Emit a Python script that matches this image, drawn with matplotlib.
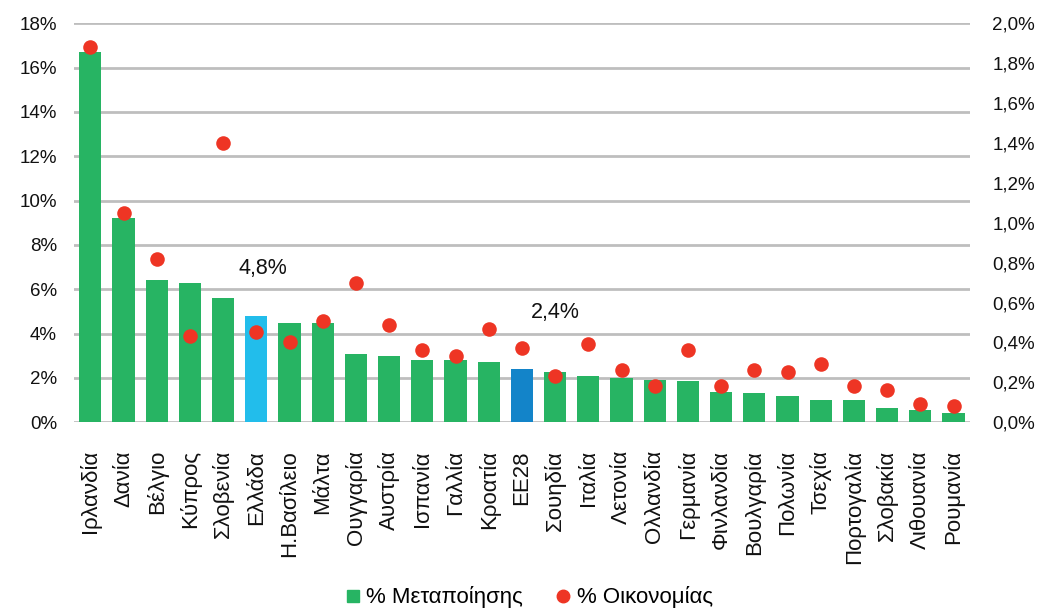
import matplotlib.pyplot as plt
from matplotlib.ticker import FuncFormatter
from matplotlib.lines import Line2D

plt.rcParams["font.family"] = ["Liberation Sans", "DejaVu Sans"]

# -----------------------------
# Data
# -----------------------------
countries = [
    "Ιρλανδία", "Δανία", "Βέλγιο", "Κύπρος", "Σλοβενία", "Ελλάδα",
    "Η.Βασίλειο", "Μάλτα", "Ουγγαρία", "Αυστρία", "Ισπανία", "Γαλλία",
    "Κροατία", "ΕΕ28", "Σουηδία", "Ιταλία", "Λετονία", "Ολλανδία",
    "Γερμανία", "Φινλανδία", "Βουλγαρία", "Πολωνία", "Τσεχία",
    "Πορτογαλία", "Σλοβακία", "Λιθουανία", "Ρουμανία",
]
manufacturing = [
    16.7, 9.2, 6.4, 6.3, 5.6, 4.8, 4.5, 4.5, 3.1, 3.0, 2.8, 2.8, 2.7, 2.4,
    2.25, 2.1, 2.0, 1.9, 1.88, 1.37, 1.31, 1.17, 1.02, 0.99, 0.66, 0.54, 0.41,
]
economy = [
    1.88, 1.05, 0.82, 0.43, 1.40, 0.45, 0.40, 0.51, 0.70, 0.49, 0.36, 0.33,
    0.47, 0.37, 0.23, 0.39, 0.26, 0.18, 0.36, 0.18, 0.26, 0.25, 0.29, 0.18,
    0.16, 0.09, 0.08,
]
highlight = {"Ελλάδα": "#22BDEB", "ΕΕ28": "#1384C9"}
label_texts = {"Ελλάδα": "4,8%", "ΕΕ28": "2,4%"}

GREEN = "#27B463"
RED = "#EE3524"
GRID = "#BEBEBE"

fig = plt.figure(figsize=(10.46, 6.12), dpi=100)
ax = fig.add_axes([0.0705, 0.31, 0.857, 0.652])
ax2 = ax.twinx()

x = list(range(len(countries)))
colors = [highlight.get(c, GREEN) for c in countries]
ax.bar(x, manufacturing, width=0.67, color=colors, zorder=2)
ax2.scatter(x, economy, s=110, color=RED, zorder=3, linewidths=0)

# value labels for Greece and EU28 (placed above, slightly offset)
label_pos = {"Ελλάδα": (0.2, 6.95), "ΕΕ28": (1.0, 4.95)}
for c, txt in label_texts.items():
    i = countries.index(c)
    dx, ty = label_pos[c]
    ax.text(i + dx, ty, txt, ha="center", va="center", fontsize=15.5,
            color="#111111")

ax.set_xlim(-0.5, len(countries) - 0.5)
ax.set_ylim(0, 18)
ax2.set_ylim(0, 2.0)
ax.set_yticks(range(0, 19, 2))
ax2.set_yticks([i / 10 for i in range(0, 21, 2)])
ax.yaxis.set_major_formatter(FuncFormatter(lambda v, p: f"{v:.0f}%"))
ax2.yaxis.set_major_formatter(
    FuncFormatter(lambda v, p: f"{v:.1f}%".replace(".", ",")))

ax.grid(axis="y", color=GRID, linewidth=2, zorder=0)
ax.set_axisbelow(True)
for a in (ax, ax2):
    for s in a.spines.values():
        s.set_visible(False)
    a.tick_params(length=0, labelsize=13.5, colors="#111111")
ax.tick_params(axis="y", pad=12)
ax2.tick_params(axis="y", pad=16)

ax.set_xticks(x)
ax.set_xticklabels(countries, rotation=90, fontsize=16)
ax.tick_params(axis="x", pad=20)

handles = [
    Line2D([], [], marker="s", linestyle="", color=GREEN, markersize=9),
    Line2D([], [], marker="o", linestyle="", color=RED, markersize=9),
]
fig.legend(handles, ["% Μεταποίησης", "% Οικονομίας"], loc="center",
           bbox_to_anchor=(0.503, 0.024), ncol=2, frameon=False,
           fontsize=16, handletextpad=0.0, columnspacing=1.2,
           handlelength=1.2)

fig.savefig("out.png", dpi=100)
